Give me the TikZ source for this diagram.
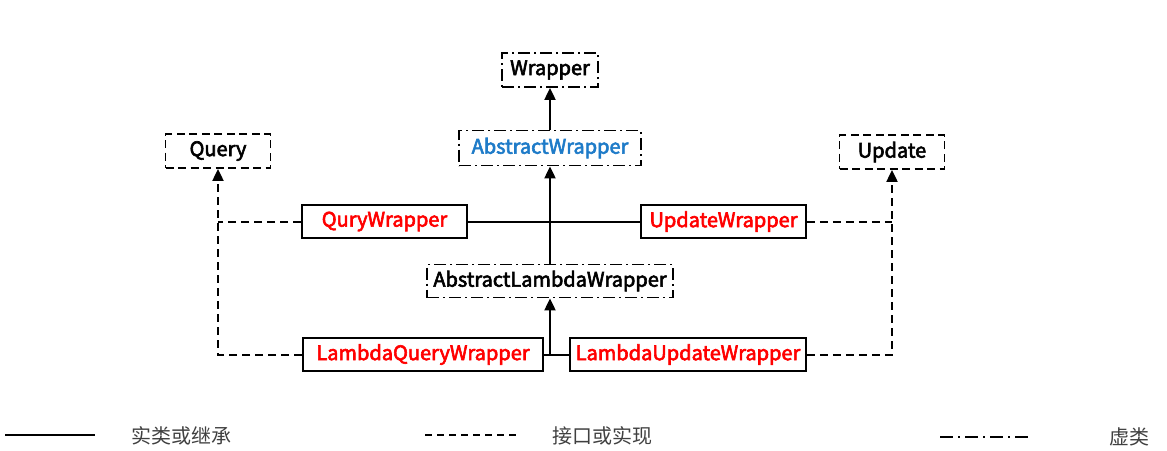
\documentclass[tikz,border=0pt]{standalone}
\usepackage{fontspec}
\setmainfont{Noto Sans CJK SC}[BoldFont={Noto Sans CJK SC},BoldFeatures={FakeBold=3}]
\usetikzlibrary{arrows.meta}
\definecolor{cred}{HTML}{FF0000}
\definecolor{cblue}{HTML}{1E7BC8}
\definecolor{cgray}{HTML}{404040}
\begin{document}
\begin{tikzpicture}[x=1pt,y=-1pt,
  box/.style={draw=black,line width=1.8pt,inner sep=0pt,font=\fontsize{20}{22}\selectfont\bfseries,text=black},
  solidbox/.style={box,text=cred},
  dashbox/.style={box,dash pattern=on 8pt off 4.5pt},
  dotbox/.style={box,dash pattern=on 12pt off 4pt on 2pt off 4pt},
  conn/.style={line width=2pt,black},
  dconn/.style={conn,dash pattern=on 8pt off 5pt},
  arr/.style={-{Triangle[length=12pt,width=11pt]}},
  legtext/.style={text=cgray,font=\fontsize{20}{22}\selectfont}
]
\useasboundingbox (0,0) rectangle (1167,450);
% nodes
\node[dotbox,minimum width=96pt,minimum height=34pt] (w) at (550,70) {Wrapper};
\node[dotbox,minimum width=182pt,minimum height=35pt,text=cblue] (aw) at (550,148) {AbstractWrapper};
\node[dashbox,minimum width=105pt,minimum height=34pt] (q) at (218,151) {Query};
\node[dashbox,minimum width=105pt,minimum height=34pt] (u) at (892,152) {Update};
\node[solidbox,minimum width=165pt,minimum height=33pt] (qw) at (384.5,221.5) {QuryWrapper};
\node[solidbox,minimum width=165pt,minimum height=33pt] (uw) at (723.5,221.5) {UpdateWrapper};
\node[dotbox,minimum width=246pt,minimum height=33pt] (alw) at (550,281) {AbstractLambdaWrapper};
\node[solidbox,minimum width=240pt,minimum height=33pt] (lqw) at (423,354.5) {LambdaQueryWrapper};
\node[solidbox,minimum width=236pt,minimum height=33pt] (luw) at (688,354.5) {LambdaUpdateWrapper};
% connectors
\draw[conn,arr] (aw.north) -- (w.south);
\draw[conn] (qw.east) -- (uw.west);
\draw[conn,arr] (alw.north) -- (aw.south);
\draw[conn] (lqw.east) -- (luw.west);
\draw[conn,arr] (lqw.east -| alw.south) -- (alw.south);
\draw[dconn] (qw.west) -- (qw.west -| q.south);
\draw[dconn,arr] (lqw.west) -| (q.south);
\draw[dconn] (uw.east) -- (uw.east -| u.south);
\draw[dconn,arr] (luw.east) -| (u.south);
% legend
\coordinate (la1) at (5,435); \coordinate (la2) at (95,435);
\coordinate (lb1) at (425,435); \coordinate (lb2) at (520,435);
\coordinate (lc1) at (940,437); \coordinate (lc2) at (1028,437);
\draw[conn] (la1) -- (la2);
\draw[line width=1.8pt,dash pattern=on 7pt off 5pt] (lb1) -- (lb2);
\draw[line width=1.8pt,dash pattern=on 13pt off 5pt on 2pt off 5pt] (lc1) -- (lc2);
\node[legtext] (t1) at (181,436) {实类或继承};
\node[legtext] (t2) at (602,436) {接口或实现};
\node[legtext] (t3) at (1129,437) {虚类};
\end{tikzpicture}
\end{document}
